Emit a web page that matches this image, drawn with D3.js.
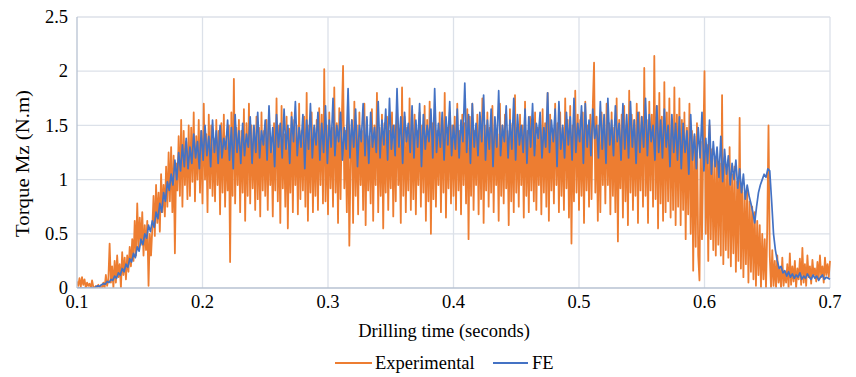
<!DOCTYPE html>
<html><head><meta charset="utf-8">
<script src="https://cdn.jsdelivr.net/npm/d3@7"></script>
<style>body{margin:0;background:#fff}svg{display:block}</style>
</head><body><svg id="c" width="856" height="377" font-family="'Liberation Serif', 'Times New Roman', 'DejaVu Serif', serif"></svg>
<script>
// ---- data ----
const xTicks = [0.1,0.2,0.3,0.4,0.5,0.6,0.7];
const yTicks = [0,0.5,1,1.5,2,2.5];
const seriesNames = ["Experimental","FE"];
// Experimental torque (N.m), one sample every 0.001 s from 0.1 s
const expStart = 0.1, expStep = 0.001;
const experimental = [
0.06,0.02,0.09,0.01,0.1,0.03,0.08,0.0,0.05,0.02,
0.04,0.0,0.07,0.01,0.0,0.02,0.0,0.03,0.0,0.01,
0.0,0.05,0.0,0.12,0.02,0.08,0.41,0.05,0.2,0.0,
0.25,0.05,0.3,0.1,0.22,0.0,0.33,0.12,0.28,0.08,
0.3,0.15,0.38,0.2,0.45,0.25,0.62,0.3,0.78,0.35,
0.65,0.4,0.7,0.3,0.58,0.35,0.62,0.02,0.5,0.3,
0.55,0.85,0.48,0.95,0.6,0.88,0.52,1.05,0.7,0.95,
0.66,1.12,0.75,1.25,0.8,1.3,0.7,1.22,0.32,1.15,
0.9,1.4,0.85,1.55,0.75,1.45,0.95,1.35,0.82,1.5,
0.85,1.48,0.98,1.62,0.8,1.4,1.0,1.55,0.88,1.45,
0.78,1.7,1.0,1.42,0.7,1.6,0.92,1.5,0.85,1.38,
0.8,1.55,0.95,1.45,0.68,1.52,0.88,1.6,0.75,1.4,
0.9,1.5,0.24,1.62,0.85,1.93,0.78,1.48,0.95,1.55,
0.7,1.45,0.88,1.65,0.62,1.52,0.85,1.7,0.78,1.5,
0.92,1.42,0.72,1.58,0.82,1.48,0.66,1.62,0.9,1.45,
0.85,1.55,0.72,1.6,0.95,1.38,0.66,1.52,0.9,1.75,
0.8,1.5,0.6,1.68,0.92,1.42,0.75,1.58,0.55,1.47,
0.88,1.62,0.7,1.55,0.95,1.5,0.68,1.7,0.82,1.45,
0.9,1.58,0.75,1.8,0.62,1.5,0.88,1.62,0.7,1.48,
0.85,1.55,0.72,1.66,0.95,1.6,0.78,2.02,0.8,1.5,
0.68,1.62,0.92,1.48,0.75,1.85,0.88,1.52,0.6,1.66,
0.82,1.55,2.05,0.92,1.45,0.7,1.6,0.39,1.2,1.55,
0.6,1.72,0.85,1.5,0.68,1.62,0.95,1.45,0.72,1.7,
0.58,1.55,0.9,1.4,0.78,1.65,0.62,1.5,0.95,1.8,
0.7,1.48,0.85,1.6,0.55,1.52,0.88,1.58,0.72,1.45,
0.92,1.62,0.66,1.5,0.8,1.7,0.95,1.42,0.6,1.85,
0.85,1.58,0.7,1.48,0.9,1.75,0.72,1.52,0.82,1.6,
0.68,1.45,0.95,1.62,0.75,1.5,0.88,1.68,0.62,1.55,
0.8,1.72,0.5,1.52,0.82,1.6,0.75,1.45,0.95,1.62,
0.7,1.55,0.88,1.8,0.65,1.48,0.92,1.62,0.78,1.5,
0.85,1.58,0.72,1.7,0.9,1.45,0.68,1.6,0.95,1.52,
0.78,1.65,0.45,1.58,0.85,1.7,0.72,1.45,0.95,1.6,
0.68,1.52,0.82,1.75,0.6,1.5,0.9,1.62,0.75,1.48,
0.88,1.68,0.7,1.55,0.95,1.42,0.62,1.7,0.85,1.5,
0.78,1.6,0.92,1.45,0.58,1.65,0.8,1.52,0.7,1.78,
0.88,1.48,0.75,1.6,0.95,1.5,0.65,1.72,0.85,1.45,
0.7,1.58,0.9,1.5,0.8,1.62,0.72,1.48,0.95,1.55,
0.68,1.65,0.88,1.52,0.75,1.8,0.62,1.6,0.9,1.45,
0.78,1.7,0.95,1.52,0.7,1.62,0.85,1.48,0.72,1.75,
0.92,1.55,0.65,1.68,0.41,1.5,0.8,1.82,0.88,1.6,
0.72,1.55,0.85,1.62,0.6,1.72,0.9,1.5,0.75,1.6,
0.82,1.68,2.08,0.88,1.58,0.62,1.5,0.7,1.62,0.95,
1.48,0.78,1.7,0.95,1.52,0.68,1.62,0.85,1.48,0.7,
1.75,0.43,1.55,0.92,1.6,0.65,1.68,0.8,1.5,0.58,
1.82,0.88,1.6,0.72,1.55,0.85,1.7,0.6,1.62,0.9,
1.58,0.75,2.03,0.85,1.55,0.6,1.72,0.9,1.6,0.75,
2.14,0.82,1.68,0.55,1.8,0.78,1.58,0.62,1.9,0.7,
1.62,0.8,1.75,0.65,1.55,0.72,1.85,0.58,1.6,0.75,
1.75,0.58,1.55,0.72,1.62,0.45,1.48,0.68,1.7,0.5,
1.45,0.16,1.4,0.38,1.52,0.3,0.07,1.35,0.45,1.3,
2.0,0.5,1.32,0.25,1.5,0.45,1.28,0.35,1.2,0.3,
1.25,0.4,1.15,0.3,1.78,0.22,1.2,0.35,1.1,0.28,
1.3,0.2,1.05,0.32,1.12,0.15,0.98,0.25,1.57,0.18,
0.95,0.1,0.88,0.22,0.92,0.05,0.8,0.15,0.75,0.08,
0.7,0.02,0.62,0.12,0.58,0.0,0.5,0.08,0.45,0.0,
0.55,1.5,0.3,0.0,0.35,0.02,0.25,0.0,0.3,0.05,
0.18,0.0,0.28,0.02,0.15,0.05,0.22,0.0,0.32,0.03,
0.2,0.06,0.25,0.0,0.18,0.08,0.27,0.03,0.37,0.05,
0.22,0.02,0.3,0.1,0.2,0.04,0.26,0.12,0.18,0.06,
0.24,0.08,0.3,0.1,0.2,0.05,0.28,0.12,0.22,0.1,
0.25
];
// FE torque (N.m), one sample every 0.0015 s from 0.1 s
const feStart = 0.1, feStep = 0.0015;
const fe = [
0,0,0,0,0,0,0,0,0.005,0.0,
0.01,0.02,0.015,0.03,0.04,0.035,0.06,0.05,0.08,0.07,
0.11,0.09,0.14,0.12,0.18,0.15,0.22,0.19,0.27,0.24,
0.32,0.28,0.38,0.34,0.45,0.4,0.5,0.46,0.58,0.52,
0.62,0.56,0.7,0.64,0.78,0.7,0.88,0.8,0.98,0.9,
1.05,0.95,1.18,1.0,1.25,1.08,1.32,1.12,1.38,1.1,
1.3,1.15,1.42,1.2,1.35,1.1,1.45,1.18,1.5,1.22,
1.4,1.12,1.55,1.25,1.45,1.15,1.5,1.2,1.38,1.28,
1.55,1.18,1.48,1.1,1.6,1.25,1.45,1.15,1.52,1.22,
1.42,1.3,1.58,1.15,1.5,1.25,1.62,1.2,1.45,1.32,
1.55,1.18,1.68,1.25,1.48,1.12,1.6,1.3,1.52,1.2,
1.65,1.28,1.5,1.15,1.58,1.35,1.72,1.22,1.48,1.3,
1.6,1.1,1.55,1.28,1.7,1.2,1.5,1.32,1.62,1.18,
1.52,1.25,1.68,1.15,1.55,1.3,1.75,1.22,1.5,1.35,
1.62,1.18,1.48,1.28,1.84,1.2,1.55,1.3,1.65,1.12,
1.5,1.35,1.7,1.22,1.58,1.15,1.62,1.3,1.48,1.25,
1.72,1.2,1.55,1.32,1.65,1.18,1.75,1.28,1.5,1.22,
1.84,1.3,1.58,1.15,1.62,1.35,1.52,1.25,1.68,1.2,
1.55,1.3,1.7,1.12,1.6,1.28,1.5,1.35,1.65,1.2,
1.84,1.25,1.52,1.3,1.62,1.18,1.58,1.32,1.72,1.22,
1.5,1.28,1.65,1.2,1.55,1.35,1.89,1.25,1.6,1.15,
1.7,1.3,1.52,1.22,1.62,1.35,1.78,1.18,1.55,1.28,
1.65,1.12,1.58,1.3,1.82,1.22,1.5,1.35,1.68,1.2,
1.55,1.28,1.75,1.18,1.6,1.32,1.5,1.25,1.65,1.15,
1.58,1.3,1.7,1.22,1.52,1.38,1.62,1.2,1.48,1.3,
1.8,1.25,1.55,1.35,1.65,1.12,1.72,1.28,1.5,1.2,
1.62,1.32,1.58,1.18,1.75,1.25,1.52,1.35,1.68,1.15,
1.7,1.3,1.55,1.22,1.65,1.38,1.5,1.2,1.72,1.28,
1.6,1.15,1.75,1.32,1.55,1.22,1.68,1.35,1.52,1.18,
1.7,1.28,1.6,1.2,1.72,1.3,1.55,1.15,1.62,1.25,
1.58,1.3,1.75,1.22,1.6,1.35,1.5,1.18,1.68,1.25,
1.55,1.2,1.65,1.3,1.5,1.12,1.6,1.25,1.52,1.18,
1.58,1.1,1.52,1.25,1.45,1.05,1.6,1.18,1.42,1.1,
1.48,1.2,1.62,1.08,1.38,1.15,1.55,1.05,1.35,1.12,
1.3,1.02,1.4,0.98,1.28,1.05,1.22,0.95,1.15,1.0,
1.18,0.92,1.1,0.88,1.05,0.82,0.95,0.85,0.78,0.7,
0.6,0.75,0.88,0.95,1.0,1.05,1.02,1.1,1.08,0.8,
0.5,0.35,0.25,0.18,0.2,0.14,0.16,0.11,0.15,0.1,
0.13,0.09,0.12,0.1,0.14,0.08,0.11,0.09,0.13,0.1,
0.08,0.12,0.09,0.11,0.07,0.1,0.12,0.08,0.1,0.09,
0.08
];
const colors = ["#ED7D31","#4472C4"];

// ---- chart ----
const svg = d3.select("#c");
const L=77,R=830,T=17,B=288;
const x = d3.scaleLinear().domain([0.1,0.7]).range([L,R]);
const y = d3.scaleLinear().domain([0,2.5]).range([B,T]);

const grid = svg.append("g");
grid.selectAll(".h").data(yTicks.slice(1)).join("line")
  .attr("x1",L).attr("x2",R).attr("y1",d=>y(d)).attr("y2",d=>y(d))
  .attr("stroke","#dce1e9").attr("stroke-width",1.3);
grid.selectAll(".v").data(xTicks.slice(1)).join("line")
  .attr("y1",T).attr("y2",B).attr("x1",d=>x(d)).attr("x2",d=>x(d))
  .attr("stroke","#dce1e9").attr("stroke-width",1.3);

svg.append("clipPath").attr("id","pc").append("rect")
  .attr("x",L).attr("y",T-3).attr("width",R-L+2).attr("height",B-T+3);

const expData = experimental.map((v,i)=>[expStart+i*expStep,v]);
const feData = fe.map((v,i)=>[feStart+i*feStep,v]);
const line = d3.line().x(d=>x(d[0])).y(d=>y(d[1]));
const plot = svg.append("g").attr("clip-path","url(#pc)");
plot.append("path").datum(expData).attr("d",line).attr("fill","none")
  .attr("stroke",colors[0]).attr("stroke-width",1.8).attr("stroke-linejoin","round");
plot.append("path").datum(feData).attr("d",line).attr("fill","none")
  .attr("stroke",colors[1]).attr("stroke-width",1.7).attr("stroke-linejoin","round");

// axis lines
svg.append("line").attr("x1",L).attr("x2",L).attr("y1",T).attr("y2",B)
  .attr("stroke","#b7c2d2").attr("stroke-width",1.3);
svg.append("line").attr("x1",L).attr("x2",R).attr("y1",B).attr("y2",B)
  .attr("stroke","#b7c2d2").attr("stroke-width",1.3);

const fs = 18.5;
const ff = "'Liberation Serif', 'Times New Roman', 'DejaVu Serif', serif";
svg.append("g").selectAll("text").data(yTicks).join("text")
  .attr("x",68).attr("y",d=>y(d)).attr("dy","0.33em").attr("text-anchor","end")
  .attr("font-family",ff).attr("font-size",fs).text(d=>d3.format("")(d));
svg.append("g").selectAll("text").data(xTicks).join("text")
  .attr("x",d=>x(d)).attr("y",308).attr("text-anchor","middle")
  .attr("font-family",ff).attr("font-size",fs).text(d=>d3.format(".1f")(d));

svg.append("text").attr("x",444).attr("y",337).attr("text-anchor","middle")
  .attr("font-family",ff).attr("font-size",fs).text("Drilling time (seconds)");
svg.append("text").attr("transform","translate(29,163.5) rotate(-90)")
  .attr("text-anchor","middle").attr("font-family",ff).attr("font-size",fs)
  .attr("textLength",147).attr("lengthAdjust","spacingAndGlyphs")
  .text("Torque Mz (N.m)");

// legend
const leg = [{x1:335,x2:372,tx:375},{x1:493,x2:528,tx:532}];
leg.forEach((l,i)=>{
  svg.append("line").attr("x1",l.x1).attr("x2",l.x2).attr("y1",363).attr("y2",363)
    .attr("stroke",colors[i]).attr("stroke-width",1.8);
  svg.append("text").attr("x",l.tx).attr("y",369).attr("font-family",ff)
    .attr("font-size",fs).text(seriesNames[i]);
});
</script></body></html>
